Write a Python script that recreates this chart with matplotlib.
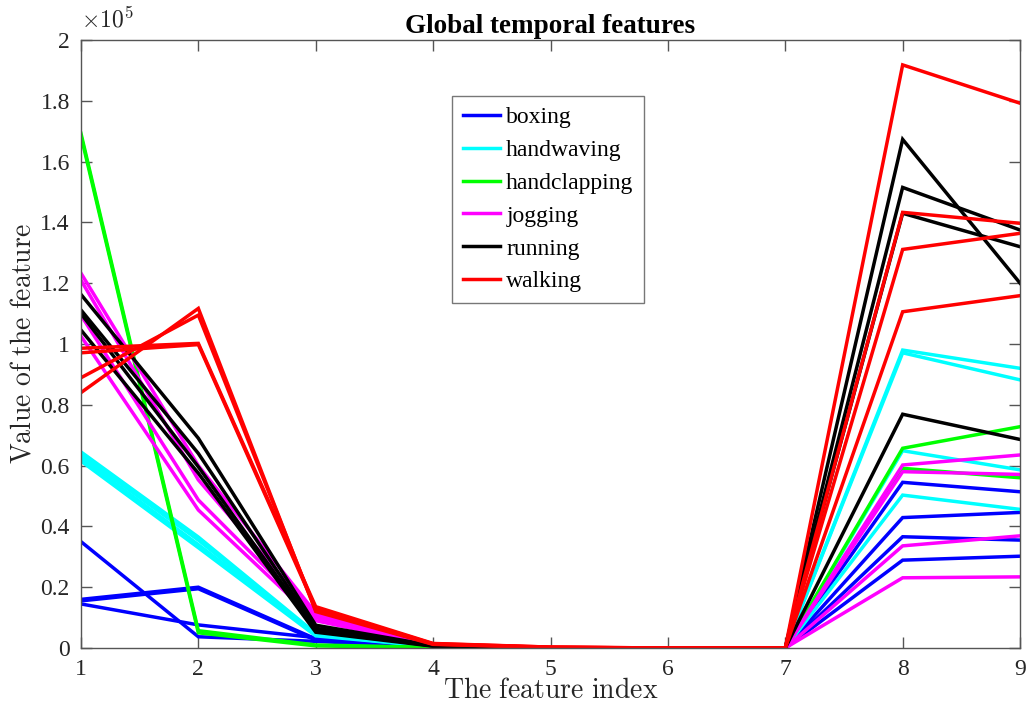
import matplotlib
matplotlib.use("Agg")
import matplotlib.pyplot as plt
import numpy as np

plt.rcParams['font.family'] = ['Liberation Serif', 'DejaVu Serif']
plt.rcParams['mathtext.fontset'] = 'cm'

feature_index = [1, 2, 3, 4, 5, 6, 7, 8, 9]
scale = 1e5

# Feature vectors per action class (values in units of 1e5)
boxing = [
    [0.350, 0.037, 0.022, 0.003, 0, 0, 0, 0.289, 0.302],
    [0.145, 0.076, 0.034, 0.004, 0, 0, 0, 0.366, 0.355],
    [0.160, 0.200, 0.030, 0.005, 0, 0, 0, 0.545, 0.514],
    [0.155, 0.195, 0.026, 0.004, 0, 0, 0, 0.429, 0.446],
]
handwaving = [
    [0.645, 0.365, 0.048, 0.006, 0, 0, 0, 0.980, 0.920],
    [0.635, 0.355, 0.045, 0.006, 0, 0, 0, 0.971, 0.882],
    [0.625, 0.340, 0.043, 0.005, 0, 0, 0, 0.649, 0.586],
    [0.615, 0.330, 0.040, 0.005, 0, 0, 0, 0.503, 0.456],
]
handclapping = [
    [1.693, 0.057, 0.010, 0.002, 0, 0, 0, 0.657, 0.728],
    [1.685, 0.050, 0.007, 0.001, 0, 0, 0, 0.591, 0.560],
]
jogging = [
    [1.233, 0.600, 0.115, 0.010, 0, 0, 0, 0.602, 0.635],
    [1.210, 0.553, 0.105, 0.010, 0, 0, 0, 0.580, 0.571],
    [1.095, 0.487, 0.100, 0.008, 0, 0, 0, 0.336, 0.369],
    [1.026, 0.454, 0.090, 0.008, 0, 0, 0, 0.231, 0.234],
]
running = [
    [1.163, 0.690, 0.075, 0.008, 0, 0, 0, 1.673, 1.200],
    [1.112, 0.640, 0.065, 0.007, 0, 0, 0, 1.515, 1.375],
    [1.100, 0.596, 0.058, 0.007, 0, 0, 0, 1.430, 1.320],
    [1.046, 0.575, 0.052, 0.006, 0, 0, 0, 0.769, 0.686],
]
walking = [
    [0.986, 1.002, 0.136, 0.015, 0.003, 0, 0, 1.918, 1.792],
    [0.971, 0.998, 0.130, 0.014, 0.003, 0, 0, 1.433, 1.397],
    [0.889, 1.095, 0.125, 0.013, 0.002, 0, 0, 1.311, 1.364],
    [0.840, 1.117, 0.120, 0.012, 0.002, 0, 0, 1.106, 1.159],
]

class_names = ['boxing', 'handwaving', 'handclapping', 'jogging', 'running', 'walking']
class_colors = ['#0000ff', '#00ffff', '#00ff00', '#ff00ff', '#000000', '#ff0000']
class_data = [boxing, handwaving, handclapping, jogging, running, walking]

fig = plt.figure(figsize=(10.26, 7.10), dpi=100)
ax = fig.add_axes([0.0789, 0.0873, 0.9153, 0.8564])

for name, color, rows in zip(class_names, class_colors, class_data):
    for i, row in enumerate(rows):
        ax.plot(feature_index, np.array(row) * scale, color=color, lw=2.5,
                label=name if i == 0 else None, solid_joinstyle='miter')

ax.set_xlim(1, 9)
ax.set_ylim(0, 2e5)
ax.set_xticks(feature_index)
yt = np.arange(0, 2.01, 0.2)
ax.set_yticks(yt * scale)
ax.set_yticklabels(['0' if v == 0 else ('%g' % v) for v in yt])

axis_color = '#555555'
text_color = '#262626'
for sp in ax.spines.values():
    sp.set_color(axis_color)
    sp.set_linewidth(1.0)
ax.tick_params(direction='in', length=8, width=1.0, color=axis_color,
               top=True, right=True, labelsize=17, labelcolor=text_color, pad=8)

ax.text(0.0, 1.012, r'$\times10^5$', transform=ax.transAxes, fontsize=17,
        color=text_color, ha='left', va='bottom')

ax.set_xlabel(r'$\mathrm{The\ feature\ index}$', fontsize=20, color=text_color, labelpad=-1)
ax.set_ylabel(r'$\mathrm{Value\ of\ the\ feature}$', fontsize=20, color=text_color, labelpad=3)
ax.set_title('Global temporal features', fontsize=19.5, fontweight='bold', pad=5)

leg = ax.legend(loc='upper left', bbox_to_anchor=(0.395, 0.908), fontsize=17,
                frameon=True, fancybox=False, handlelength=1.6, handletextpad=0.25,
                labelspacing=0.48, borderpad=0.45, borderaxespad=0.0)
leg.get_frame().set_edgecolor(axis_color)
leg.get_frame().set_linewidth(1.0)

fig.savefig('out.png', dpi=100)
